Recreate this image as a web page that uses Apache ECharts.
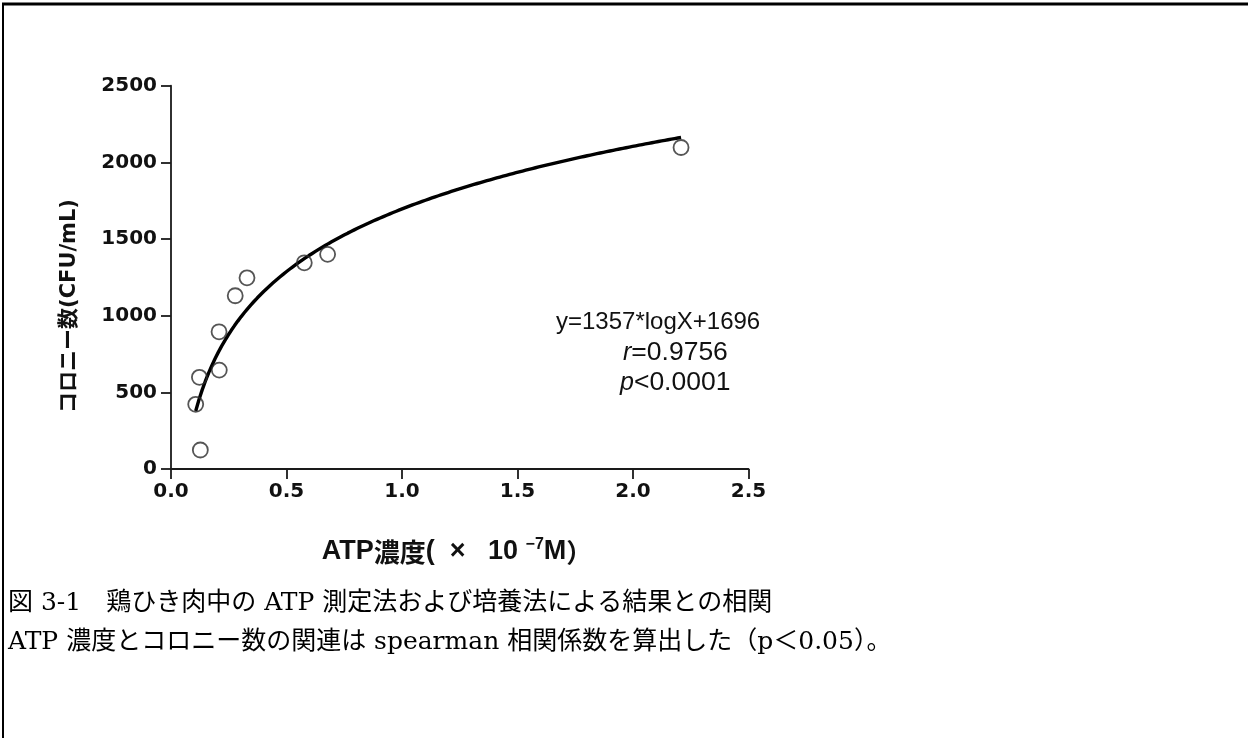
<!DOCTYPE html>
<html>
<head>
<meta charset="utf-8">
<script src="https://cdn.jsdelivr.net/npm/echarts@6/dist/echarts.min.js"></script>
<style>
  html, body { margin: 0; padding: 0; background: #ffffff; }
  #chart { width: 1248px; height: 738px; }
</style>
</head>
<body>
<div id="chart"></div>
<script>
// ---- Data ----
const atpConc = [0.107, 0.127, 0.123, 0.209, 0.208, 0.278, 0.329, 0.577, 0.678, 2.208];   // ×10^-7 M
const colonyCount = [422, 124, 598, 645, 895, 1130, 1247, 1345, 1400, 2097];              // CFU/mL
const xTicks = [0.0, 0.5, 1.0, 1.5, 2.0, 2.5];
const yTicks = [0, 500, 1000, 1500, 2000, 2500];
// Fitted curve printed on the chart: y = 1357*logX + 1696
const fitSlope = 1357;
const fitIntercept = 1696;
const fitText = 'y=1357*logX+1696';
const rText = '=0.9756';
const pText = '<0.0001';
const yAxisTitle = 'コロニー数(CFU/mL)';
const captionLine1 = '図 3-1　鶏ひき肉中の ATP 測定法および培養法による結果との相関';
const captionLine2 = 'ATP 濃度とコロニー数の関連は spearman 相関係数を算出した（p＜0.05）。';

// ---- Build series ----
const scatterData = atpConc.map((x, i) => [x, colonyCount[i]]);
const xMinData = Math.min(...atpConc);
const xMaxData = Math.max(...atpConc);
const fitData = [];
const nFit = 150;
for (let i = 0; i <= nFit; i++) {
  const x = xMinData + (xMaxData - xMinData) * i / nFit;
  fitData.push([x, fitSlope * Math.log10(x) + fitIntercept]);
}

const sansBold = "'DejaVu Sans', 'Noto Sans CJK JP', sans-serif";
const sans = "'Liberation Sans', 'Noto Sans CJK JP', sans-serif";
const cjk = "'Noto Sans CJK JP', sans-serif";
const serif = "'DejaVu Serif', 'Noto Sans CJK JP', serif";

const chart = echarts.init(document.getElementById('chart'), null, { renderer: 'canvas' });
chart.setOption({
  backgroundColor: '#ffffff',
  animation: false,
  grid: { left: 171, right: 499.5, top: 85.7, bottom: 269, containLabel: false },
  xAxis: {
    type: 'value',
    min: xTicks[0], max: xTicks[xTicks.length - 1], interval: 0.5,
    axisLine: { show: true, onZero: false, lineStyle: { color: '#1a1a1a', width: 1.8 } },
    axisTick: { show: true, inside: false, length: 10, lineStyle: { color: '#1a1a1a', width: 1.8 } },
    splitLine: { show: false },
    axisLabel: {
      margin: 13,
      color: '#111',
      fontFamily: sansBold, fontWeight: 'bold', fontSize: 20,
      formatter: v => v.toFixed(1)
    }
  },
  yAxis: {
    type: 'value',
    min: yTicks[0], max: yTicks[yTicks.length - 1], interval: 500,
    axisLine: { show: true, onZero: false, lineStyle: { color: '#1a1a1a', width: 1.8 } },
    axisTick: { show: true, inside: false, length: 10, lineStyle: { color: '#1a1a1a', width: 1.8 } },
    splitLine: { show: false },
    axisLabel: {
      margin: 14,
      color: '#111',
      fontFamily: sansBold, fontWeight: 'bold', fontSize: 20,
      formatter: v => String(v)
    }
  },
  series: [
    {
      type: 'line',
      data: fitData,
      showSymbol: false,
      symbol: 'none',
      smooth: false,
      lineStyle: { color: '#000', width: 3.4 },
      z: 2
    },
    {
      type: 'scatter',
      data: scatterData,
      symbol: 'circle',
      symbolSize: 15,
      itemStyle: { color: 'rgba(255,255,255,0)', borderColor: '#2a2a2a', borderWidth: 1.8 },
      z: 3
    }
  ],
  graphic: [
    // frame lines (top and left)
    { type: 'line', shape: { x1: 2, y1: 4, x2: 1248, y2: 4 }, style: { stroke: '#000', lineWidth: 3 } },
    { type: 'line', shape: { x1: 3, y1: 3, x2: 3, y2: 738 }, style: { stroke: '#000', lineWidth: 2 } },
    // y axis title
    {
      type: 'text', x: 70, y: 306, rotation: Math.PI / 2,
      style: { text: yAxisTitle, font: "bold 21px " + sansBold, fill: '#111', align: 'center', verticalAlign: 'middle' }
    },
    // x axis title with superscript
    {
      type: 'text', x: 457, y: 551,
      style: {
        text: '{a|ATP}{c|濃度}{a|(  ×   10 }{s|−7}{a|M}{c|）}',
        align: 'center', verticalAlign: 'middle',
        rich: {
          a: { font: "bold 27px " + sans, fill: '#111', verticalAlign: 'bottom' },
          c: { font: "bold 26px " + cjk, fill: '#111', verticalAlign: 'bottom' },
          s: { font: "bold 16px " + sans, fill: '#111', verticalAlign: 'top', padding: [0, 0, 13, 0] }
        }
      }
    },
    // fit annotation
    {
      type: 'text', x: 556, y: 322,
      style: { text: fitText, font: "24px " + sans, fill: '#111', align: 'left', verticalAlign: 'middle' }
    },
    {
      type: 'text', x: 623, y: 353,
      style: {
        text: '{i|r}{n|' + rText + '}', align: 'left', verticalAlign: 'middle',
        rich: { i: { font: "italic 25px " + sans, fill: '#111' }, n: { font: "26.5px " + sans, fill: '#111' } }
      }
    },
    {
      type: 'text', x: 620, y: 383,
      style: {
        text: '{i|p}{n|' + pText + '}', align: 'left', verticalAlign: 'middle',
        rich: { i: { font: "italic 25px " + sans, fill: '#111' }, n: { font: "26.5px " + sans, fill: '#111' } }
      }
    },
    // caption
    {
      type: 'text', x: 8, y: 603,
      style: { text: captionLine1, font: "25px " + serif, fill: '#000', align: 'left', verticalAlign: 'middle' }
    },
    {
      type: 'text', x: 8, y: 642,
      style: { text: captionLine2, font: "25px " + serif, fill: '#000', align: 'left', verticalAlign: 'middle' }
    }
  ]
});
</script>
</body>
</html>
